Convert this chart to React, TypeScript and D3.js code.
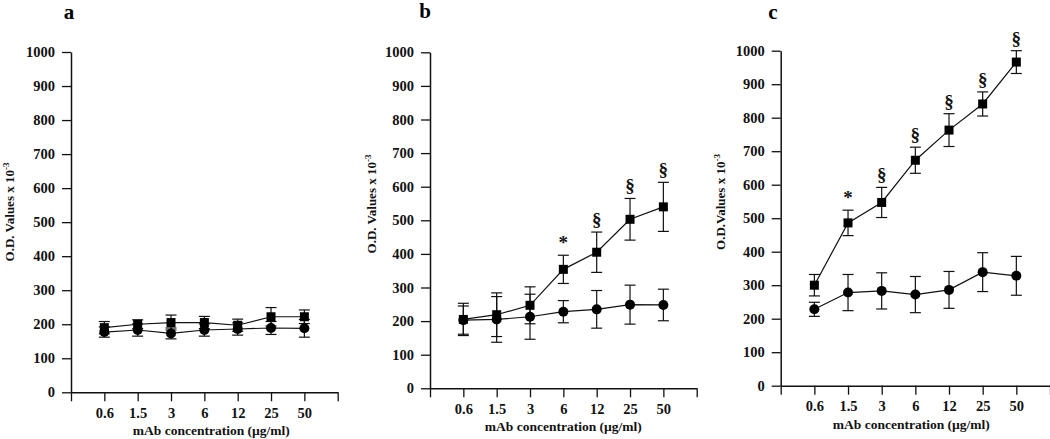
import * as d3 from 'd3';
import { useEffect, useRef } from 'react';

const width = 1050;
const height = 439;
const font = '"Liberation Serif", "Times New Roman", serif';

const concentrations = ['0.6', '1.5', '3', '6', '12', '25', '50'];
const yTicks = [0, 100, 200, 300, 400, 500, 600, 700, 800, 900, 1000];

// panel a
const squareA = [190, 200, 205, 205, 197, 222, 222];
const squareErrA = [18, 13, 22, 18, 18, 27, 20];
const circleA = [177, 183, 173, 183, 186, 189, 188];
const circleErrA = [15, 18, 16, 18, 18, 19, 26];
const marksA = ['', '', '', '', '', '', ''];

// panel b
const squareB = [205, 219, 247, 354, 405, 503, 540];
const squareErrB = [48, 65, 55, 42, 60, 62, 73];
const circleB = [203, 205, 213, 228, 235, 249, 248];
const circleErrB = [42, 68, 67, 33, 56, 58, 47];
const marksB = ['', '', '', '*', '§', '§', '§'];

// panel c
const squareC = [300, 486, 547, 673, 763, 841, 966];
const squareErrC = [32, 38, 45, 39, 49, 36, 34];
const circleC = [228, 278, 283, 272, 286, 339, 328];
const circleErrC = [21, 54, 54, 54, 55, 58, 58];
const marksC = ['', '*', '§', '§', '§', '§', '§'];

const panels = [
  {
    label: 'a', labelX: 69, labelY: 19,
    x0: 71, x1: 337.7, yTop: 52, yBottom: 392.3,
    titleX: 14, titleY: 212, titleText: 'O.D. Values x 10', titleDx: 7,
    squares: squareA, squareErr: squareErrA, circles: circleA, circleErr: circleErrA, marks: marksA,
  },
  {
    label: 'b', labelX: 425, labelY: 18,
    x0: 430, x1: 696.7, yTop: 52.3, yBottom: 388.3,
    titleX: 376, titleY: 204, titleText: 'O.D. Values x 10', titleDx: 0,
    squares: squareB, squareErr: squareErrB, circles: circleB, circleErr: circleErrB, marks: marksB,
  },
  {
    label: 'c', labelX: 773, labelY: 18.5,
    x0: 780.7, x1: 1050, yTop: 50.7, yBottom: 385.7,
    titleX: 725, titleY: 202, titleText: 'O.D.Values x 10', titleDx: -4,
    squares: squareC, squareErr: squareErrC, circles: circleC, circleErr: circleErrC, marks: marksC,
  },
];

function App() {
  const svgRef = useRef<SVGSVGElement>(null);

  useEffect(() => {
    const svg = d3.select(svgRef.current);
    svg.selectAll('*').remove();

    panels.forEach((p) => {
      const g = svg.append('g');
      const x = d3.scaleLinear().domain([0, 8]).range([p.x0, p.x1]);
      const y = d3.scaleLinear().domain([0, 1000]).range([p.yBottom, p.yTop]);

      // panel letter
      g.append('text')
        .attr('x', p.labelX)
        .attr('y', p.labelY)
        .attr('text-anchor', 'middle')
        .attr('font-family', font)
        .attr('font-weight', 'bold')
        .attr('font-size', 21)
        .text(p.label);

      const yAxis = g
        .append('g')
        .attr('transform', `translate(${p.x0},0)`)
        .call(
          d3
            .axisLeft(y)
            .tickValues(yTicks)
            .tickFormat(d3.format('d'))
            .tickSize(9)
            .tickSizeOuter(0)
            .tickPadding(7)
        );

      const xAxis = g
        .append('g')
        .attr('transform', `translate(0,${p.yBottom})`)
        .call(
          d3
            .axisBottom(x)
            .tickValues(d3.range(0, 9))
            .tickSize(9)
            .tickSizeOuter(0)
            .tickPadding(6)
            .tickFormat((d) => {
              const i = +d - 1;
              return i >= 0 && i < concentrations.length ? concentrations[i] : '';
            })
        );

      [yAxis, xAxis].forEach((ax) => {
        ax.select('.domain').attr('stroke', '#111').attr('stroke-width', 1.5);
        ax.selectAll('.tick line').attr('stroke', '#111').attr('stroke-width', 1.3);
        ax.selectAll('.tick text')
          .attr('font-family', font)
          .attr('font-weight', 'bold')
          .attr('font-size', 14.5)
          .attr('fill', '#111');
      });

      // axis titles
      g.append('text')
        .attr('x', x(4) + p.titleDx)
        .attr('y', p.yBottom + 43)
        .attr('text-anchor', 'middle')
        .attr('font-family', font)
        .attr('font-weight', 'bold')
        .attr('font-size', 13.5)
        .attr('fill', '#111')
        .text('mAb concentration (\u00b5g/ml)');

      const yt = g
        .append('text')
        .attr('transform', `translate(${p.titleX},${p.titleY}) rotate(-90)`)
        .attr('text-anchor', 'middle')
        .attr('font-family', font)
        .attr('font-weight', 'bold')
        .attr('font-size', 13)
        .attr('fill', '#111');
      yt.append('tspan').text(p.titleText);
      yt.append('tspan').attr('dy', -5).attr('font-size', 9).text('-3');

      const idx = d3.range(concentrations.length);
      const px = (i: number) => x(i + 1);

      const series = [
        { vals: p.squares, errs: p.squareErr },
        { vals: p.circles, errs: p.circleErr },
      ];

      // error bars
      series.forEach((s) => {
        const eb = g.append('g').attr('stroke', '#111').attr('stroke-width', 1.2);
        idx.forEach((i) => {
          const cx = px(i);
          const top = y(s.vals[i] + s.errs[i]);
          const bot = y(s.vals[i] - s.errs[i]);
          eb.append('line').attr('x1', cx).attr('x2', cx).attr('y1', top).attr('y2', bot);
          eb.append('line').attr('x1', cx - 5.5).attr('x2', cx + 5.5).attr('y1', top).attr('y2', top);
          eb.append('line').attr('x1', cx - 5.5).attr('x2', cx + 5.5).attr('y1', bot).attr('y2', bot);
        });
      });

      // lines
      const line = d3
        .line<number>()
        .x((_, i) => px(i))
        .y((d) => y(d));
      series.forEach((s) => {
        g.append('path')
          .attr('d', line(s.vals))
          .attr('fill', 'none')
          .attr('stroke', '#111')
          .attr('stroke-width', 1.2);
      });

      // markers
      g.selectAll('.sq')
        .data(p.squares)
        .join('rect')
        .attr('x', (_, i) => px(i) - 4.5)
        .attr('y', (d) => y(d) - 4.5)
        .attr('width', 9)
        .attr('height', 9)
        .attr('fill', '#000');
      g.selectAll('.ci')
        .data(p.circles)
        .join('circle')
        .attr('cx', (_, i) => px(i))
        .attr('cy', (d) => y(d))
        .attr('r', 5)
        .attr('fill', '#000');

      // significance marks
      idx.forEach((i) => {
        if (!p.marks[i]) return;
        g.append('text')
          .attr('x', px(i))
          .attr('y', y(p.squares[i] + p.squareErr[i]) - 6)
          .attr('text-anchor', 'middle')
          .attr('font-family', font)
          .attr('font-weight', 'bold')
          .attr('font-size', 19)
          .attr('fill', '#111')
          .text(p.marks[i]);
      });
    });
  }, []);

  return (
    <svg
      ref={svgRef}
      width={width}
      height={height}
      style={{ position: 'absolute', left: 0, top: 0, background: '#fff' }}
    />
  );
}

export default App;
